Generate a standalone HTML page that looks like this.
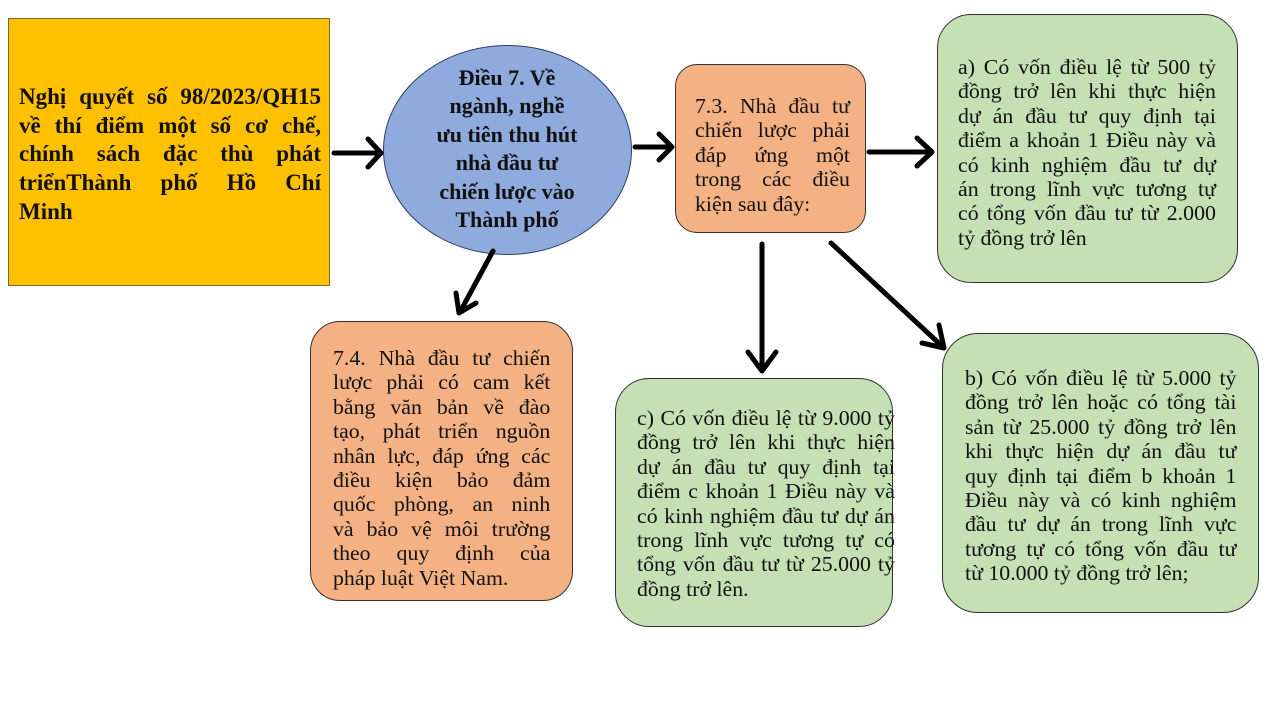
<!DOCTYPE html>
<html><head><meta charset="utf-8"><style>
body{margin:0;width:1280px;height:720px;background:#fff;position:relative;overflow:hidden;font-family:"Liberation Serif",serif;color:#111}
.b{position:absolute;box-sizing:border-box;border:1.5px solid #333}
.t{position:absolute;transform-origin:0 0;font-size:21px;transform:scaleX(1.04)}
.t div{white-space:nowrap;text-align:justify;text-align-last:justify;height:24.4px;line-height:24.4px}
.t div.l{text-align-last:left}
.c div{text-align:center;text-align-last:center}
.y div{height:28.7px;line-height:28.7px}
.e div{height:28.4px;line-height:28.4px}
</style></head><body>
<div class="b" style="left:8px;top:18px;width:322px;height:268px;background:#ffc000;border-color:#7a6a30"></div>
<div class="t y" style="left:19px;top:83px;width:302px;font-weight:bold;font-size:23px;transform:scaleX(1.0)">
<div>Nghị quyết số 98/2023/QH15</div>
<div>về thí điểm một số cơ chế,</div>
<div>chính sách đặc thù phát</div>
<div>triểnThành phố Hồ Chí</div>
<div class="l">Minh</div></div>
<div class="b" style="left:383px;top:45px;width:249px;height:210px;border-radius:50%;background:#8faadc;border-color:#2f3f6a"></div>
<div class="t c e" style="left:407px;top:64px;width:200px;font-weight:bold;font-size:22px;transform:scaleX(1.0)">
<div>Điều 7. Về</div>
<div>ngành, nghề</div>
<div>ưu tiên thu hút</div>
<div>nhà đầu tư</div>
<div>chiến lược vào</div>
<div>Thành phố</div></div>
<div class="b" style="left:675px;top:64px;width:191px;height:169px;border-radius:22px;background:#f4b183"></div>
<div class="t" style="left:695px;top:94px;width:149px">
<div>7.3. Nhà đầu tư</div><div>chiến lược phải</div><div>đáp ứng một</div><div>trong các điều</div><div class="l">kiện sau đây:</div></div>
<div class="b" style="left:937px;top:14px;width:301px;height:269px;border-radius:34px;background:#c5e0b4"></div>
<div class="t" style="left:958px;top:55px;width:248px">
<div>a) Có vốn điều lệ từ 500 tỷ</div><div>đồng trở lên khi thực hiện</div><div>dự án đầu tư quy định tại</div><div>điểm a khoản 1 Điều này và</div><div>có kinh nghiệm đầu tư dự</div><div>án trong lĩnh vực tương tự</div><div>có tổng vốn đầu tư từ 2.000</div><div class="l">tỷ đồng trở lên</div></div>
<div class="b" style="left:310px;top:321px;width:263px;height:280px;border-radius:30px;background:#f4b183"></div>
<div class="t" style="left:333px;top:346px;width:209px">
<div>7.4. Nhà đầu tư chiến</div><div>lược phải có cam kết</div><div>bằng văn bản về đào</div><div>tạo, phát triển nguồn</div><div>nhân lực, đáp ứng các</div><div>điều kiện bảo đảm</div><div>quốc phòng, an ninh</div><div>và bảo vệ môi trường</div><div>theo quy định của</div><div class="l">pháp luật Việt Nam.</div></div>
<div class="b" style="left:615px;top:378px;width:278px;height:249px;border-radius:34px;background:#c5e0b4"></div>
<div class="t" style="left:637px;top:406px;width:248px">
<div>c) Có vốn điều lệ từ 9.000 tỷ</div><div>đồng trở lên khi thực hiện</div><div>dự án đầu tư quy định tại</div><div>điểm c khoản 1 Điều này và</div><div>có kinh nghiệm đầu tư dự án</div><div>trong lĩnh vực tương tự có</div><div>tổng vốn đầu tư từ 25.000 tỷ</div><div class="l">đồng trở lên.</div></div>
<div class="b" style="left:942px;top:333px;width:317px;height:280px;border-radius:36px;background:#c5e0b4"></div>
<div class="t" style="left:965px;top:366px;width:261px">
<div>b) Có vốn điều lệ từ 5.000 tỷ</div><div>đồng trở lên hoặc có tổng tài</div><div>sản từ 25.000 tỷ đồng trở lên</div><div>khi thực hiện dự án đầu tư</div><div>quy định tại điểm b khoản 1</div><div>Điều này và có kinh nghiệm</div><div>đầu tư dự án trong lĩnh vực</div><div>tương tự có tổng vốn đầu tư</div><div class="l">từ 10.000 tỷ đồng trở lên;</div></div>
<svg width="1280" height="720" style="position:absolute;left:0;top:0" fill="none" stroke="#000" stroke-width="5" stroke-linecap="round" stroke-linejoin="round">
<path d="M334 153H380M368 139L381 153L368 167"/>
<path d="M635 147H671M659 134L672 147L659 160"/>
<path d="M869 152H931M917 138L932 152L917 166"/>
<path d="M493 251L460 312M456 293L459 313L476 303"/>
<path d="M762 244V370M748 352L762 371L776 352"/>
<path d="M831 243L943 347M922 343L944 348L939 325"/>
</svg>
</body></html>
